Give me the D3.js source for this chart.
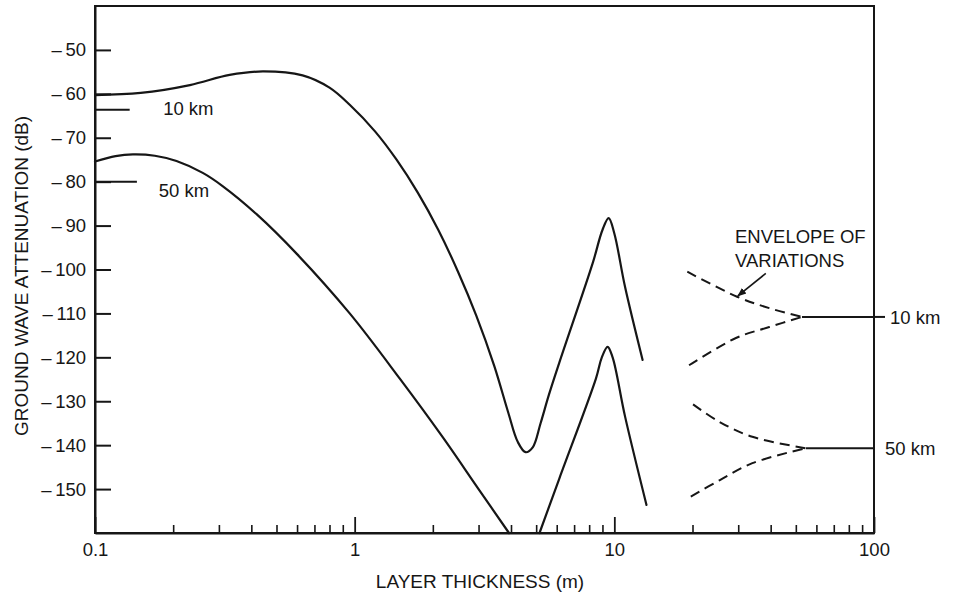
<!DOCTYPE html>
<html>
<head>
<meta charset="utf-8">
<script src="https://cdn.jsdelivr.net/npm/d3@7"></script>
<style>
  html, body { margin: 0; padding: 0; background: #ffffff; }
  svg { display: block; }
  text { font-family: "Liberation Sans", Arial, Helvetica, sans-serif; fill: #161616; }
</style>
</head>
<body>
<svg id="chart" width="955" height="596"></svg>
<script>
// Ground wave attenuation vs. layer thickness, two path lengths (dB, thickness in m)
const tenKm = [
  [0.1, -60.3], [0.15, -59.8], [0.232, -58.0], [0.33, -55.7], [0.443, -54.9],
  [0.63, -55.8], [0.8, -58.6], [0.957, -62.5], [1.2, -68.6], [1.45, -75.0],
  [1.75, -82.5], [2.1, -91.0], [2.5, -100.5], [2.94, -110.5], [3.45, -122.0],
  [3.9, -132.5], [4.25, -139.3], [4.55, -141.6], [4.85, -140.5], [5.2, -135.0],
  [5.6, -128.5], [6.14, -121.2], [8.26, -98.5], [9.0, -91.0], [9.51, -88.3],
  [10.0, -91.8], [11.0, -104.0], [12.85, -120.6]
];
const fiftyKmFall = [
  [0.1, -75.4], [0.12, -74.2], [0.14, -73.8], [0.17, -74.1], [0.206, -75.3],
  [0.26, -78.0], [0.31, -81.0], [0.419, -87.4], [0.6, -96.5], [0.957, -110.0],
  [1.49, -124.8], [2.19, -138.3], [3.0, -150.0], [3.93, -160.0]
];
const fiftyKmRise = [
  [5.15, -160.0], [6.14, -147.6], [8.5, -124.8], [8.95, -120.0], [9.42, -117.6],
  [9.85, -120.0], [11.0, -133.5], [13.3, -153.6]
];

// Envelope of variations at large thickness
const env10Upper = [[19.1, -100.5], [29.7, -106.2], [39.5, -108.8], [52.8, -110.8]];
const env10Lower = [[19.4, -121.8], [29.4, -115.6], [39.5, -113.1], [52.8, -110.8]];
const env50Upper = [[20.1, -130.7], [25.4, -134.7], [34.0, -138.1], [54.6, -140.7]];
const env50Lower = [[19.7, -151.7], [25.4, -148.0], [34.0, -144.1], [54.6, -140.7]];

// Limiting values for thick layers
const limit10 = [[52.8, -110.8], [100, -110.8]];
const limit50 = [[54.6, -140.7], [100, -140.7]];

// Thin-layer reference levels marked on the left axis
const ref10 = [[0.1, -63.6], [0.136, -63.6]];
const ref50 = [[0.1, -80.0], [0.145, -80.0]];

// Axis ticks
const yTicks = [-50, -60, -70, -80, -90, -100, -110, -120, -130, -140, -150];
const xMajor = [0.1, 1, 10, 100];
const xTickLabels = ["0.1", "1", "10", "100"];
const xMinor = [0.2, 0.3, 0.4, 0.5, 0.6, 0.7, 0.8, 0.9,
                2, 3, 4, 5, 6, 7, 8, 9,
                20, 30, 40, 50, 60, 70, 80, 90];

const xTitle = "LAYER THICKNESS (m)";
const yTitle = "GROUND WAVE ATTENUATION (dB)";

const svg = d3.select("#chart");
const ink = "#161616";

const margin = { left: 95, right: 81, top: 6, bottom: 63 };
const W = 955, H = 596;

const x = d3.scaleLog().domain([0.1, 100]).range([margin.left, W - margin.right]);
const y = d3.scaleLinear().domain([-160, -40]).range([H - margin.bottom, margin.top]);

// Frame
svg.append("rect")
  .attr("x", x(0.1)).attr("y", y(-40))
  .attr("width", x(100) - x(0.1)).attr("height", y(-160) - y(-40))
  .attr("fill", "none").attr("stroke", ink).attr("stroke-width", 2);

// Y axis (ticks point into the plot)
const yAxis = svg.append("g")
  .attr("transform", `translate(${x(0.1)},0)`)
  .call(d3.axisLeft(y).tickValues(yTicks).tickSizeInner(-16).tickSizeOuter(0)
    .tickPadding(9).tickFormat(d => "\u2013\u2009" + Math.abs(d)));
yAxis.select(".domain").attr("stroke", ink).attr("stroke-width", 2);
yAxis.selectAll(".tick line").attr("stroke", ink).attr("stroke-width", 2);
yAxis.selectAll(".tick text").attr("font-size", 18.5).attr("fill", ink)
  .style("font-family", "'Liberation Sans', Arial, sans-serif");

// X axis: major ticks with labels, minor ticks shorter
const xAxisMinor = svg.append("g")
  .attr("transform", `translate(0,${y(-160)})`)
  .call(d3.axisBottom(x).tickValues(xMinor).tickSizeInner(-8).tickSizeOuter(0).tickFormat(""));
xAxisMinor.select(".domain").remove();
xAxisMinor.selectAll(".tick line").attr("stroke", ink).attr("stroke-width", 1.6);

const xAxis = svg.append("g")
  .attr("transform", `translate(0,${y(-160)})`)
  .call(d3.axisBottom(x).tickValues(xMajor).tickSizeInner(-16).tickSizeOuter(0)
    .tickPadding(10).tickFormat((d, i) => xTickLabels[i]));
xAxis.select(".domain").attr("stroke", ink).attr("stroke-width", 2);
xAxis.selectAll(".tick line").attr("stroke", ink).attr("stroke-width", 1.8);
xAxis.selectAll(".tick text").attr("font-size", 18.5).attr("fill", ink)
  .style("font-family", "'Liberation Sans', Arial, sans-serif");

// Axis titles
svg.append("text")
  .attr("x", 480).attr("y", 588)
  .attr("text-anchor", "middle").attr("font-size", 19)
  .text(xTitle);
svg.append("text")
  .attr("transform", "translate(28,276) rotate(-90)")
  .attr("text-anchor", "middle").attr("font-size", 19)
  .text(yTitle);

// Curves
const line = d3.line().x(d => x(d[0])).y(d => y(d[1])).curve(d3.curveCatmullRom.alpha(0.5));
const straight = d3.line().x(d => x(d[0])).y(d => y(d[1]));
const envLine = d3.line().x(d => x(d[0])).y(d => y(d[1])).curve(d3.curveCatmullRom.alpha(0.5));

const plot = svg.append("g");

[tenKm, fiftyKmFall, fiftyKmRise].forEach(s => {
  plot.append("path").datum(s).attr("d", line)
    .attr("fill", "none").attr("stroke", ink).attr("stroke-width", 2.2)
    .attr("stroke-linejoin", "round").attr("stroke-linecap", "round");
});

[env10Upper, env10Lower, env50Upper, env50Lower].forEach(s => {
  plot.append("path").datum(s).attr("d", envLine)
    .attr("fill", "none").attr("stroke", ink).attr("stroke-width", 2)
    .attr("stroke-dasharray", "10,6");
});

[limit10, limit50, ref10, ref50].forEach(s => {
  plot.append("path").datum(s).attr("d", straight)
    .attr("fill", "none").attr("stroke", ink).attr("stroke-width", 2);
});

// Short leader from the 10 km limit to its right-hand label
plot.append("line")
  .attr("x1", x(100)).attr("x2", x(100) + 11)
  .attr("y1", y(limit10[0][1])).attr("y2", y(limit10[0][1]))
  .attr("stroke", ink).attr("stroke-width", 2);

// Curve labels
const lab = (t, px, py) => svg.append("text")
  .attr("x", px).attr("y", py).attr("dy", "0.36em")
  .attr("font-size", 18.5).text(t);
lab("10 km", x(0.183), y(-63.2));
lab("50 km", x(0.176), y(-81.9));
lab("10 km", x(100) + 16, y(limit10[0][1]));
lab("50 km", x(100) + 11, y(limit50[0][1]));

// Envelope annotation with arrow
svg.append("text").attr("x", 735).attr("y", 243).attr("font-size", 18.5).text("ENVELOPE OF");
svg.append("text").attr("x", 735).attr("y", 267).attr("font-size", 18.5).text("VARIATIONS");

svg.append("defs").append("marker")
  .attr("id", "head").attr("viewBox", "0 0 10 10")
  .attr("refX", 9).attr("refY", 5)
  .attr("markerWidth", 9).attr("markerHeight", 9)
  .attr("markerUnits", "userSpaceOnUse")
  .attr("orient", "auto")
  .append("path").attr("d", "M0,1 L10,5 L0,9 Z").attr("fill", ink);

svg.append("line")
  .attr("x1", x(38.3)).attr("y1", y(-100.9))
  .attr("x2", x(29.9)).attr("y2", y(-106.0))
  .attr("stroke", ink).attr("stroke-width", 1.6)
  .attr("marker-end", "url(#head)");
</script>
</body>
</html>
